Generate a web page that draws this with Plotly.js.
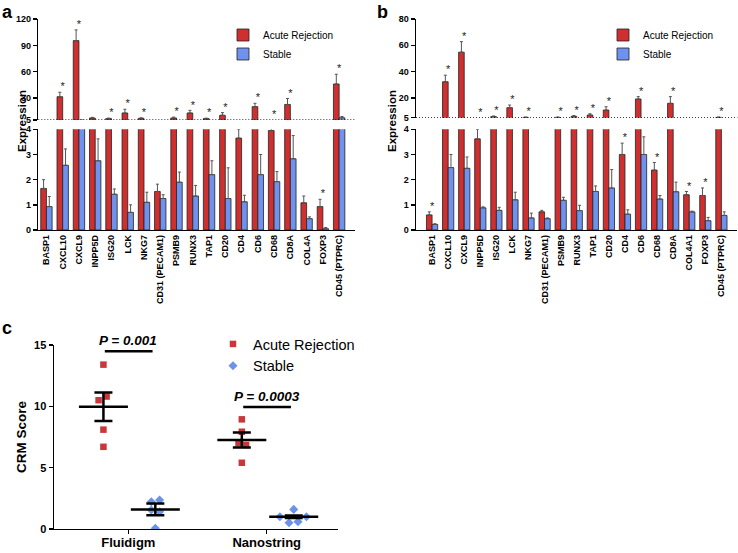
<!DOCTYPE html>
<html>
<head>
<meta charset="utf-8">
<script src="https://cdn.plot.ly/plotly-3.0.1.min.js"></script>
<style>
  html, body { margin: 0; padding: 0; background: #fff; }
  #plot { width: 738px; height: 553px; }
</style>
</head>
<body>
<div id="plot"></div>
<script>
// Datos del panel a
const genesA = ['BASP1', 'CXCL10', 'CXCL9', 'INPP5D', 'ISG20', 'LCK', 'NKG7', 'CD31 (PECAM1)', 'PSMB9', 'RUNX3', 'TAP1', 'CD20', 'CD4', 'CD6', 'CD68', 'CD8A', 'COL4A', 'FOXP3', 'CD45 (PTPRC)'];
const rechazoA = [1.65, 31.5, 95.4, 7.3, 6.6, 13, 6.9, 1.53, 7.3, 13, 6.6, 10.4, 3.65, 20.2, 3.95, 22.7, 1.08, 0.93, 46];
const rechazoErrA = [2.0, 36.6, 107.6, 8, 7.2, 17.2, 7.5, 1.82, 8.3, 16, 7.1, 13.4, 4.0, 24, 4.4, 29.5, 1.35, 1.22, 57.1];
const estableA = [0.93, 2.57, 4.6, 2.75, 1.42, 0.7, 1.1, 1.25, 1.9, 1.35, 2.2, 1.25, 1.12, 2.2, 1.92, 2.83, 0.45, 0.05, 7.5];
const estableErrA = [1.33, 3.22, 5.0, 3.62, 1.63, 1.0, 1.5, 1.4, 2.3, 1.77, 2.75, 2.47, 1.38, 3.0, 2.32, 3.75, 0.52, 0.1, 9];
// 't' = asterisco en el tramo superior, 'b' = en el inferior
const asteriscosA = ['', 't', 't', '', 't', 't', 't', '', 't', 't', 't', 't', 'b', 't', 't', 't', '', 'b', 't'];

// Datos del panel b
const genesB = ['BASP1', 'CXCL10', 'CXCL9', 'INPP5D', 'ISG20', 'LCK', 'NKG7', 'CD31 (PECAM1)', 'PSMB9', 'RUNX3', 'TAP1', 'CD20', 'CD4', 'CD6', 'CD68', 'CD8A', 'COL4A1', 'FOXP3', 'CD45 (PTPRC)'];
const rechazoB = [0.6, 32.3, 54.8, 3.62, 5.8, 12.6, 5.2, 0.72, 5.2, 6.0, 7.0, 10.8, 3.0, 19.2, 2.38, 15.9, 1.4, 1.37, 5.2];
const rechazoErrB = [0.72, 37.3, 62.8, 4.0, 6.3, 14.6, 5.5, 0.78, 5.5, 6.6, 8.0, 13.3, 3.45, 21, 2.68, 21, 1.53, 1.67, 5.5];
const estableB = [0.22, 2.48, 2.45, 0.88, 0.78, 1.2, 0.48, 0.45, 1.18, 0.77, 1.53, 1.67, 0.63, 3.0, 1.23, 1.52, 0.72, 0.37, 0.58];
const estableErrB = [0.25, 3.0, 2.9, 0.92, 0.9, 1.5, 0.67, 0.48, 1.3, 0.98, 1.75, 2.4, 0.8, 3.7, 1.37, 1.9, 0.75, 0.5, 0.72];
const asteriscosB = ['b', 't', 't', 't', 't', 't', 't', '', 't', 't', 't', 't', 'b', 't', 'b', 't', 'b', 'b', 't'];

// Datos del panel c
const plataformas = ['Fluidigm', 'Nanostring'];
const crmFluidigmRechazo = [13.4, 10.5, 10.8, 8.1, 6.7];
const crmFluidigmEstable = [2.22, 2.36, 1.55, 1.41, 0.06];
const crmNanoRechazo = [8.94, 7.93, 6.85, 6.98, 5.4];
const crmNanoEstable = [1.6, 1.0, 0.51, 0.6, 1.0];
const jitterFluidigmRechazo = [0, -0.035, 0.023, 0, 0];
const jitterFluidigmEstable = [-0.029, 0.031, -0.029, 0.031, 0];
const jitterNanoRechazo = [0, 0, 0.031, -0.024, 0];
const jitterNanoEstable = [0, -0.1, -0.034, 0.031, 0.092];
const mediaRechazo = [9.97, 7.25];
const semRechazo = [1.16, 0.61];
const mediaEstable = [1.6, 1.0];
const semEstable = [0.48, 0.1];
const pValores = ['P = 0.001', 'P = 0.0003'];

const ROJO = '#cf2f2f';
const AZUL = '#6f92ee';
const FUENTE = 'Liberation Sans, Arial, sans-serif';

// Barras con error solo hacia arriba
const barras = (x, y, err, color, nombre, xa, ya, leyenda, mostrar) => ({
  type: 'bar', x: x, y: y, name: nombre, xaxis: xa, yaxis: ya,
  legend: leyenda, showlegend: mostrar, hoverinfo: 'skip',
  marker: { color: color, line: { color: '#222', width: 0.8 } },
  error_y: {
    type: 'data', symmetric: false,
    array: y.map((v, i) => err[i] - v),
    arrayminus: y.map(() => 0),
    color: '#555', thickness: 1, width: 1.5
  }
});

// Asteriscos de significancia sobre cada gen
const asteriscos = (genes, err, marcas, tramo, desplazamiento, xa, ya) => {
  const xs = [];
  const ys = [];
  marcas.forEach((m, i) => {
    if (m !== tramo) return;
    xs.push(genes[i]);
    ys.push((tramo === 't' ? Math.max(err[i], 5) : err[i]) + desplazamiento);
  });
  return {
    type: 'scatter', mode: 'text', x: xs, y: ys, text: xs.map(() => '*'),
    textfont: { family: FUENTE, size: 11, color: '#222' },
    marker: { color: '#222' },
    cliponaxis: false, showlegend: false, hoverinfo: 'skip', xaxis: xa, yaxis: ya
  };
};

const data = [
  // Panel a: tramo inferior y superior
  barras(genesA, rechazoA, rechazoErrA, ROJO, 'Acute Rejection', 'x', 'y', 'legend', false),
  barras(genesA, estableA, estableErrA, AZUL, 'Stable', 'x', 'y', 'legend', false),
  barras(genesA, rechazoA, rechazoErrA, ROJO, 'Acute Rejection', 'x2', 'y2', 'legend', true),
  barras(genesA, estableA, estableErrA, AZUL, 'Stable', 'x2', 'y2', 'legend', true),
  asteriscos(genesA, rechazoErrA, asteriscosA, 'b', 0.18, 'x', 'y'),
  asteriscos(genesA, rechazoErrA, asteriscosA, 't', 5.2, 'x2', 'y2'),
  // Panel b
  barras(genesB, rechazoB, rechazoErrB, ROJO, 'Acute Rejection', 'x3', 'y3', 'legend2', false),
  barras(genesB, estableB, estableErrB, AZUL, 'Stable', 'x3', 'y3', 'legend2', false),
  barras(genesB, rechazoB, rechazoErrB, ROJO, 'Acute Rejection', 'x4', 'y4', 'legend2', true),
  barras(genesB, estableB, estableErrB, AZUL, 'Stable', 'x4', 'y4', 'legend2', true),
  asteriscos(genesB, rechazoErrB, asteriscosB, 'b', 0.18, 'x3', 'y3'),
  asteriscos(genesB, rechazoErrB, asteriscosB, 't', 3.4, 'x4', 'y4')
];

// Panel c: puntos individuales
const DESP_ROJO = -0.18;
const DESP_AZUL = 0.195;
const puntos = (grupos, jitters, desp) => {
  const xs = [];
  const ys = [];
  grupos.forEach((g, i) => {
    g.forEach((v, j) => {
      xs.push(i + 1 + desp + jitters[i][j]);
      ys.push(v);
    });
  });
  return { x: xs, y: ys };
};
const pRojo = puntos([crmFluidigmRechazo, crmNanoRechazo], [jitterFluidigmRechazo, jitterNanoRechazo], DESP_ROJO);
const pAzul = puntos([crmFluidigmEstable, crmNanoEstable], [jitterFluidigmEstable, jitterNanoEstable], DESP_AZUL);

data.push({
  type: 'scatter', mode: 'markers', x: pRojo.x, y: pRojo.y, name: 'Acute Rejection',
  xaxis: 'x5', yaxis: 'y5', legend: 'legend3', hoverinfo: 'skip',
  marker: { symbol: 'square', size: 6.5, color: '#c9373a' }
});
data.push({
  type: 'scatter', mode: 'markers', x: pAzul.x, y: pAzul.y, name: 'Stable',
  xaxis: 'x5', yaxis: 'y5', legend: 'legend3', hoverinfo: 'skip',
  marker: { symbol: 'diamond', size: 7, color: '#6b94e8' }
});

// Media y error estándar
const media = (medias, sems, desp) => ({
  type: 'scatter', mode: 'markers', x: medias.map((m, i) => i + 1 + desp), y: medias,
  xaxis: 'x5', yaxis: 'y5', showlegend: false, hoverinfo: 'skip',
  marker: { symbol: 'line-ew', size: 35, color: '#000', line: { color: '#000', width: 2.5 } },
  error_y: { type: 'data', array: sems, color: '#000', thickness: 2.5, width: 9 }
});
data.push(media(mediaRechazo, semRechazo, DESP_ROJO));
data.push(media(mediaEstable, semEstable, DESP_AZUL));

// Ejes
const fuenteTicks = { family: FUENTE, size: 9, color: '#000', weight: 700 };
const ejeY = (extra) => Object.assign({
  showline: true, linecolor: '#000', linewidth: 1.5,
  ticks: 'outside', ticklen: 4, tickwidth: 1.5, tickcolor: '#000',
  showgrid: false, zeroline: false, tickfont: fuenteTicks, fixedrange: true
}, extra);
const ejeXInferior = (extra) => Object.assign({
  type: 'category', showline: true, linecolor: '#000', linewidth: 1.5,
  ticks: '', tickangle: -90, showgrid: false, zeroline: false,
  tickfont: { family: FUENTE, size: 9, color: '#000', weight: 700 }, fixedrange: true
}, extra);
const ejeXSuperior = (extra) => Object.assign({
  showline: false, showticklabels: false, ticks: '', showgrid: false, zeroline: false, fixedrange: true
}, extra);

const domXA = [0.0519, 0.4810];
const domXB = [0.5637, 0.9993];
const domYInf = [0.5841, 0.7662];

const lineaPunteada = (ref) => ({
  type: 'line', xref: ref.x + ' domain', x0: 0, x1: 1, yref: ref.y, y0: 5, y1: 5,
  line: { color: '#000', width: 1.3, dash: '1px,2px' }
});

// Líneas de significancia del panel c
const alturaP = [Math.max(...crmFluidigmRechazo) + 1.1, Math.max(...crmNanoRechazo) + 1.0];
const shapes = [lineaPunteada({ x: 'x2', y: 'y2' }), lineaPunteada({ x: 'x4', y: 'y4' })];
const annotations = [];
pValores.forEach((p, i) => {
  shapes.push({
    type: 'line', xref: 'x5', yref: 'y5', x0: i + 1 - 0.17, x1: i + 1 + 0.175, y0: alturaP[i], y1: alturaP[i],
    line: { color: '#000', width: 2.5 }
  });
  annotations.push({
    xref: 'x5', yref: 'y5', x: i + 1, y: alturaP[i], yanchor: 'bottom', showarrow: false, yshift: 1,
    text: p, font: { family: FUENTE, size: 13.5, color: '#000', weight: 700, style: 'italic' }
  });
});

// Títulos de los paneles
const etiqueta = (texto, x, y) => ({
  xref: 'paper', yref: 'paper', x: x, y: y, xanchor: 'left', yanchor: 'middle', showarrow: false,
  text: texto, font: { family: FUENTE, size: 18, color: '#000', weight: 700 }
});
annotations.push(etiqueta('a', 0, 1 - 12 / 553));
annotations.push(etiqueta('b', 375 / 738, 1 - 12 / 553));
annotations.push(etiqueta('c', 0, 1 - 328 / 553));

const tituloY = (x) => ({
  xref: 'paper', yref: 'paper', x: x, y: 1 - 121 / 553, xanchor: 'center', yanchor: 'middle',
  textangle: -90, showarrow: false,
  text: 'Expression', font: { family: FUENTE, size: 11.5, color: '#000', weight: 700 }
});
annotations.push(tituloY(22 / 738));
annotations.push(tituloY(392 / 738));

const leyenda = (x, y, tam) => ({
  x: x, y: y, xanchor: 'left', yanchor: 'top', bgcolor: 'rgba(0,0,0,0)',
  font: { family: FUENTE, size: tam, color: '#000' }, traceorder: 'normal'
});

const layout = {
  width: 738, height: 553, autosize: false,
  margin: { l: 0, r: 0, t: 0, b: 0 },
  paper_bgcolor: '#fff', plot_bgcolor: '#fff',
  barmode: 'group', bargap: 0.3, bargroupgap: 0,
  xaxis: ejeXInferior({ domain: domXA, anchor: 'y' }),
  yaxis: ejeY({ domain: domYInf, anchor: 'x', range: [0, 4], tickvals: [0, 1, 2, 3, 4] }),
  xaxis2: ejeXSuperior({ domain: domXA, anchor: 'y2', matches: 'x' }),
  yaxis2: ejeY({ domain: [0.7830, 0.9656], anchor: 'x2', range: [5, 120], tickvals: [5, 30, 60, 90, 120] }),
  xaxis3: ejeXInferior({ domain: domXB, anchor: 'y3' }),
  yaxis3: ejeY({ domain: domYInf, anchor: 'x3', range: [0, 4], tickvals: [0, 1, 2, 3, 4] }),
  xaxis4: ejeXSuperior({ domain: domXB, anchor: 'y4', matches: 'x3' }),
  yaxis4: ejeY({ domain: [0.7872, 0.9656], anchor: 'x4', range: [5, 80], tickvals: [5, 20, 40, 60, 80] }),
  xaxis5: {
    domain: [0.0732, 0.4580], anchor: 'y5', range: [0.463, 2.515],
    tickvals: [1, 2], ticktext: plataformas, showline: true, linecolor: '#000', linewidth: 1.5,
    ticks: 'outside', ticklen: 4, tickwidth: 1.5, tickcolor: '#000', showgrid: false, zeroline: false,
    ticklabelstandoff: -3,
    tickfont: { family: FUENTE, size: 13, color: '#000', weight: 700 }, fixedrange: true
  },
  yaxis5: ejeY({
    domain: [0.0434, 0.3761], anchor: 'x5', range: [0, 15], tickvals: [0, 5, 10, 15],
    tickfont: { family: FUENTE, size: 11, color: '#000', weight: 700 },
    title: { text: 'CRM Score', standoff: 4, font: { family: FUENTE, size: 13.5, color: '#000', weight: 700 } }
  }),
  legend: leyenda(223 / 738, 1 - 20.5 / 553, 10),
  legend2: leyenda(603 / 738, 1 - 20.5 / 553, 10),
  legend3: leyenda(213 / 738, 1 - 328 / 553, 14.5),
  shapes: shapes,
  annotations: annotations
};

Plotly.newPlot('plot', data, layout, { displayModeBar: false, staticPlot: true });
</script>
</body>
</html>
